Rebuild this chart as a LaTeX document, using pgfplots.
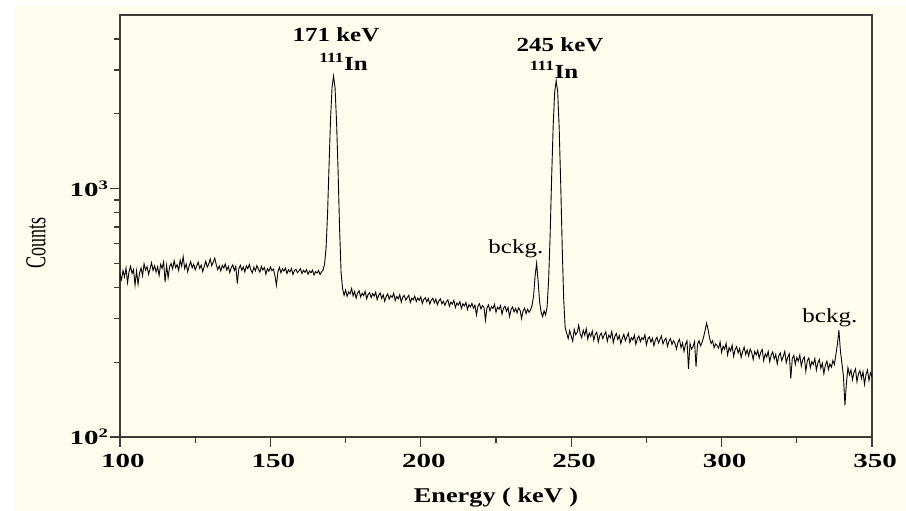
\documentclass[border=0pt]{standalone}
\usepackage{fontspec}
\setmainfont{Liberation Serif}[FakeStretch=1.25]
\newfontfamily\plainserif{Liberation Serif}
\newfontfamily\tickfont{Liberation Serif}[FakeStretch=1.45]
\usepackage{pgfplots}
\usepackage{pgfplotstable}
\pgfplotsset{compat=1.18}
\definecolor{paper}{RGB}{255,253,238}
\definecolor{frame}{RGB}{60,60,55}

% gamma spectrum, counts per 0.5 keV channel
\pgfplotstableread{
x y
100 452
100.5 430
101 468
101.5 441
102 479
102.5 418
103 462
103.5 487
104 455
104.5 472
105 409
105.5 466
106 412
106.5 458
107 479
107.5 446
108 498
108.5 470
109 485
109.5 452
110 476
110.5 503
111 468
111.5 489
112 461
112.5 484
113 447
113.5 495
114 478
114.5 507
115 420
115.5 490
116 438
116.5 486
117 499
117.5 475
118 512
118.5 481
119 494
119.5 468
120 515
120.5 487
121 532
121.5 476
122 497
122.5 462
123 489
123.5 508
124 480
124.5 496
125 471
125.5 488
126 505
126.5 477
127 492
127.5 463
128 486
128.5 510
129 483
129.5 497
130 521
130.5 489
131 506
131.5 525
132 494
132.5 472
133 488
133.5 466
134 491
134.5 479
135 497
135.5 470
136 486
136.5 459
137 481
137.5 493
138 468
138.5 487
139 415
139.5 476
140 491
140.5 469
141 484
141.5 462
142 489
142.5 476
143 495
143.5 471
144 458
144.5 483
145 466
145.5 490
146 474
146.5 461
147 486
147.5 470
148 481
148.5 452
149 476
149.5 465
150 483
150.5 468
151 474
151.5 447
152 408
152.5 462
153 482
153.5 458
154 475
154.5 466
155 479
155.5 455
156 471
156.5 462
157 477
157.5 451
158 468
158.5 473
159 459
159.5 466
160 476
160.5 455
161 469
161.5 460
162 472
162.5 452
163 466
163.5 458
164 470
164.5 449
165 463
165.5 457
166 468
166.5 451
167 462
167.5 470
168 496
168.5 574
169 790
169.5 1240
170 1908
170.5 2560
171 2840
171.5 2540
172 1850
172.5 1180
173 690
173.5 460
174 395
174.5 372
175 391
175.5 368
176 384
176.5 377
177 396
177.5 370
178 385
178.5 362
179 380
179.5 388
180 366
180.5 379
181 371
181.5 386
182 360
182.5 375
183 381
183.5 364
184 378
184.5 369
185 383
185.5 357
186 372
186.5 380
187 361
187.5 374
188 352
188.5 368
189 377
189.5 359
190 371
190.5 365
191 379
191.5 354
192 368
192.5 360
193 374
193.5 349
194 366
194.5 371
195 356
195.5 364
196 372
196.5 348
197 362
197.5 357
198 369
198.5 351
199 363
199.5 355
200 367
200.5 345
201 358
201.5 364
202 350
202.5 361
203 343
203.5 356
204 362
204.5 347
205 359
205.5 341
206 353
206.5 360
207 344
207.5 352
208 339
208.5 350
209 357
209.5 336
210 349
210.5 343
211 355
211.5 332
212 346
212.5 340
213 351
213.5 329
214 344
214.5 337
215 348
215.5 326
216 341
216.5 334
217 345
217.5 330
218 339
218.5 310
219 336
219.5 344
220 328
220.5 338
221 333
221.5 295
222 331
222.5 340
223 322
223.5 335
224 329
224.5 342
225 318
225.5 333
226 327
226.5 338
227 312
227.5 330
228 336
228.5 321
229 332
229.5 305
230 326
230.5 334
231 319
231.5 329
232 316
232.5 331
233 324
233.5 300
234 322
234.5 330
235 314
235.5 327
236 318
236.5 325
237 340
237.5 370
238 445
238.5 500
239 425
239.5 350
240 318
240.5 305
241 322
241.5 310
242 335
242.5 430
243 650
243.5 1110
244 1780
244.5 2440
245 2720
245.5 2460
246 1760
246.5 1060
247 590
247.5 360
248 275
248.5 262
249 249
249.5 268
250 255
250.5 243
251 271
251.5 258
252 264
252.5 282
253 260
253.5 251
254 269
254.5 257
255 273
255.5 248
256 262
256.5 254
257 267
257.5 245
258 259
258.5 264
259 241
259.5 256
260 262
260.5 249
261 258
261.5 265
262 243
262.5 257
263 251
263.5 266
264 240
264.5 254
265 261
265.5 247
266 256
266.5 238
267 250
267.5 259
268 244
268.5 253
269 262
269.5 240
270 251
270.5 246
271 257
271.5 236
272 249
272.5 255
273 242
273.5 251
274 247
274.5 258
275 235
275.5 248
276 253
276.5 241
277 250
277.5 233
278 246
278.5 252
279 239
279.5 247
280 255
280.5 237
281 245
281.5 250
282 232
282.5 243
283 249
283.5 236
284 244
284.5 238
285 226
285.5 241
286 247
286.5 229
287 239
287.5 221
288 236
288.5 244
289 188
289.5 238
290 226
290.5 231
291 242
291.5 192
292 236
292.5 244
293 233
293.5 240
294 252
294.5 268
295 287
295.5 271
296 250
296.5 238
297 244
297.5 229
298 237
298.5 233
299 228
299.5 241
300 219
300.5 232
301 226
301.5 238
302 214
302.5 229
303 222
303.5 234
304 211
304.5 225
305 231
305.5 218
306 227
306.5 209
307 221
307.5 230
308 215
308.5 224
309 212
309.5 226
310 219
310.5 205
311 221
311.5 214
312 223
312.5 208
313 219
313.5 225
314 203
314.5 216
315 210
315.5 221
316 201
316.5 214
317 220
317.5 206
318 215
318.5 197
319 212
319.5 218
320 203
320.5 211
321 221
321.5 199
322 210
322.5 216
323 172
323.5 207
324 213
324.5 196
325 209
325.5 202
326 214
326.5 193
327 205
327.5 210
328 184
328.5 203
329 208
329.5 190
330 201
330.5 196
331 207
331.5 186
332 199
332.5 205
333 189
333.5 198
334 180
334.5 195
335 202
335.5 187
336 197
336.5 191
337 203
337.5 196
338 215
338.5 236
339 269
339.5 222
340 198
340.5 176
341 134
341.5 165
342 190
342.5 178
343 186
343.5 170
344 182
344.5 188
345 167
345.5 180
346 185
346.5 172
347 183
347.5 163
348 178
348.5 186
349 169
349.5 181
350 175
}\spectrum

\begin{document}
\begin{tikzpicture}
\fill[paper] (-105pt,-74pt) rectangle (786pt,432pt);
\begin{axis}[
    at={(0pt,0pt)}, anchor=south west,
    scale only axis,
    width=752pt, height=422pt,
    xmin=100, xmax=350,
    ymode=log, ymin=100, ymax=5000,
    xtick={100,150,200,250,300,350},
    xticklabels={100,150,200,250,300,350},
    minor xtick={125,175,225,275,325},
    ytick={100,1000},
    yticklabels={10\textsuperscript{\fontsize{13}{13}\selectfont 2},10\textsuperscript{\fontsize{13}{13}\selectfont 3}},
    minor ytick={200,300,400,500,600,700,800,900,2000,3000,4000},
    xtick pos=lower, ytick pos=left,
    tick align=outside,
    major tick length=10pt, minor tick length=6pt,
    axis line style={line width=1.6pt, frame},
    every tick/.style={line width=1.3pt, frame},
    tick label style={font=\tickfont\bfseries\fontsize{20}{22}\selectfont},
    xticklabel style={yshift=-4pt, xshift=3pt},
    yticklabel style={xshift=2pt},
    xlabel={Energy ( keV )},
    xlabel style={font=\fontsize{21}{24}\selectfont\bfseries, yshift=-13pt},
    axis background/.style={fill=paper},
]
\addplot[black, line width=0.9pt] table[x=x, y=y] {\spectrum};
\node[font=\fontsize{20}{24}\selectfont\bfseries] at (axis cs:171.8,4150) {171 keV};
\node[font=\fontsize{20}{24}\selectfont\bfseries] at (axis cs:174.3,3230) {\textsuperscript{111}In};
\node[font=\fontsize{20}{24}\selectfont\bfseries] at (axis cs:246.3,3800) {245 keV};
\node[font=\fontsize{20}{24}\selectfont\bfseries] at (axis cs:244.3,3000) {\textsuperscript{111}In};
\node[font=\fontsize{20}{24}\selectfont] at (axis cs:231.6,574) {bckg.};
\node[font=\fontsize{20}{24}\selectfont] at (axis cs:336,303) {bckg.};
\end{axis}
\node[rotate=90] at (-84pt,194pt)
    {\scalebox{1}[1.6]{\plainserif\fontsize{18}{20}\selectfont Counts}};
\pgfresetboundingbox
\path (-120pt,-74pt) rectangle (786pt,437pt);
\end{tikzpicture}
\end{document}
